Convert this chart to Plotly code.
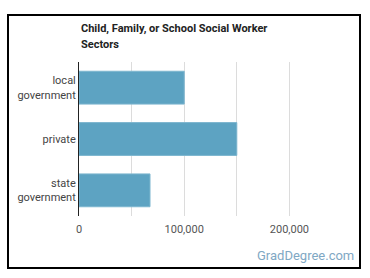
import plotly.graph_objects as go

categories = ["local<br>government", "private", "state<br>government"]
values = [100000, 150000, 67500]
tick_vals = [0, 50000, 100000, 150000, 200000]
tick_text = ["0", "", "100,000", "", "200,000"]
title_lines = ["Child, Family, or School Social Worker", "Sectors"]

# plot-area pixel geometry
L, R, T, B = 79, 28, 62, 62
W, H = 370, 278
pw = W - L - R
ph = H - T - B

def px_x(p):
    return (p - L) / pw

def px_y(q):
    return (H - B - q) / ph

fig = go.Figure(
    go.Bar(
        x=values,
        y=categories,
        orientation="h",
        marker=dict(color="#5DA3C2", line=dict(color="#7DB6CF", width=1)),
        hoverinfo="skip",
    )
)

fig.update_layout(
    width=W,
    height=H,
    margin=dict(l=L, r=R, t=T, b=B, pad=0),
    paper_bgcolor="white",
    plot_bgcolor="white",
    bargap=0.36,
    showlegend=False,
    font=dict(family="Roboto", size=11, color="#444"),
    xaxis=dict(
        range=[0, 250000],
        tickvals=tick_vals,
        ticktext=tick_text,
        showgrid=True,
        gridcolor="#dcdcdc",
        gridwidth=1,
        zeroline=False,
        showline=False,
        ticks="",
        ticklabelstandoff=5,
        tickfont=dict(family="Roboto", size=11, color="#555"),
    ),
    yaxis=dict(
        categoryorder="array",
        categoryarray=categories,
        autorange="reversed",
        showline=True,
        linecolor="#222",
        linewidth=1,
        ticks="",
        showgrid=False,
        tickfont=dict(family="Roboto", size=11, color="#444"),
    ),
    shapes=[
        dict(
            type="rect",
            xref="paper",
            yref="paper",
            x0=px_x(8),
            x1=px_x(360),
            y0=px_y(268),
            y1=px_y(15),
            line=dict(color="#000", width=2),
            fillcolor="rgba(0,0,0,0)",
            layer="above",
        )
    ],
    annotations=[
        dict(
            text="<b>%s</b>" % title_lines[0],
            xref="paper",
            yref="paper",
            x=px_x(79),
            y=px_y(28),
            xanchor="left",
            yanchor="middle",
            showarrow=False,
            font=dict(family="Roboto", size=11, color="#222"),
        ),
        dict(
            text="<b>%s</b>" % title_lines[1],
            xref="paper",
            yref="paper",
            x=px_x(79),
            y=px_y(44),
            xanchor="left",
            yanchor="middle",
            showarrow=False,
            font=dict(family="Roboto", size=11, color="#222"),
        ),
        dict(
            text="GradDegree.com",
            xref="paper",
            yref="paper",
            x=px_x(356),
            y=px_y(255),
            xanchor="right",
            yanchor="middle",
            showarrow=False,
            font=dict(family="Roboto", size=13, color="#7FA8C4"),
        ),
    ],
)

fig.write_html("out.html")
